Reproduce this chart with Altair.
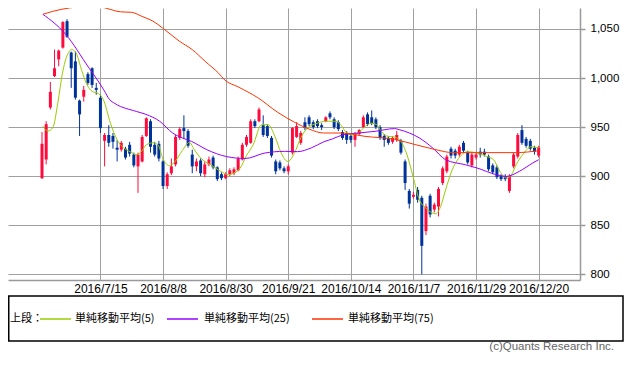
import altair as alt
import pandas as pd

# ---- candle data (index 0 = 2016/6/27 ... 119 = 2016/12/20) ----
open_ = [898,917,970,1002,1019,1031,1058,1026,1017,977, 981,1004,1010,990,980,936,942,941,929,927,
         928,932,922,910,915,941,956,932,933,915, 890,903,912,939,949,946,922,910,916,902,
         912,919,909,902,898,902,903,906,917,932, 934,956,956,952,951,939,915,914,908,905,
         924,940,934,955,960,955,956,952,956,964, 958,955,945,944,941,937,943,950,963,960,
         958,950,941,939,935,937,936,915,885,879, 886,878,844,880,866,869,893,905,928,926,
         922,934,924,911,919,925,925,920,911,909, 900,900,885,910,920,947,938,936,929,921]
close_ = [933,953,986,1010,1028,1057,1042,1010,980,963, 988,995,993,988,949,942,934,935,927,934,
          919,923,911,922,940,959,930,922,918,890, 902,910,940,948,946,931,910,915,903,912,
          917,909,897,898,902,906,907,918,932,940, 956,951,968,942,941,921,905,908,905,910,
          949,951,944,949,953,950,951,950,960,960, 950,948,939,937,937,943,947,960,953,954,
          950,939,937,934,939,942,924,893,872,881, 876,829,869,861,871,887,908,920,921,921,
          930,926,914,922,922,922,922,907,904,899, 897,897,900,922,942,934,931,928,925,929]
high_ = [945,956,996,1029,1029,1058,1060,1027,1027,978, 992,1006,1011,995,983,944,952,944,937,936,
         930,935,924,924,942,960,958,935,936,917, 904,918,942,950,962,948,927,918,918,915,
         920,921,910,904,904,908,909,920,934,942, 958,958,970,962,953,941,917,916,910,912,
         950,955,946,960,962,957,958,954,961,966, 960,957,947,946,943,945,948,962,965,967,
         960,952,943,941,941,946,938,917,887,884, 889,880,872,882,873,889,910,922,930,928,
         932,936,926,924,925,929,928,922,913,911, 902,902,902,924,944,952,940,938,931,931]
low_ = [897,912,968,1001,1012,1030,1041,990,978,941, 976,993,990,983,944,910,930,928,915,925,
        917,920,909,883,914,940,924,920,915,887, 887,901,910,937,938,929,903,905,900,899,
        910,907,895,896,897,900,901,905,916,930, 933,949,955,940,939,919,902,906,903,902,
        922,939,932,947,951,948,949,947,955,958, 948,946,937,933,934,930,941,949,951,952,
        948,937,930,932,933,935,922,886,867,877, 873,800,840,858,863,859,891,903,918,918,
        920,924,912,909,917,919,920,905,902,897, 895,895,883,908,918,932,929,926,922,919]

# ---- moving averages (index, value) ----
ma5_i = [0.2,1.4,2.6,3.8,4.9,6.1,7.1,8.1,9.6,10.8,12,13.6,14.7,16.4,18,19.5,21.1,22.7,23.8,25,
         26.6,27.8,28.9,30.5,31.7,33.6,35.3,36.5,38,40.4,42.8,44.7,45.9,47.5,49,50.6,52.6,54.2,55.8,57.3,
         58.9,60.5,62,63.6,66,68,70.4,71.5,72.7,74.3,75.8,77,79,80.2,81.3,82.9,84.3,85.7,87.3,88.9,
         90.4,92,93.6,94.4,95.5,96.7,98.3,99.8,101.9,104.2,106.6,108.2,109.7,111.3,112.5,113.6,115.2,117.2,119]
ma5_v = [951,946,949.5,975,1005,1024,1029,1026,1006.6,993,986.5,984,978,954,937,929,925,922,925,932,
         934,932,918.6,910.7,914,926,934.5,927,918.6,911.7,905,901.5,903,908.4,921,932,952.5,952.5,940.6,923.7,
         915,923.7,939,949,954,956,956,952.5,945.7,942,944,949,954,952.5,945.7,940.6,940,937,923.7,899.8,
         876,867.5,862.4,861.7,869,886,906.6,918,925,923.7,920,916.8,905,898,901.5,911.7,922,930,929]
ma25_i = [0.2,5.6,11.3,13.6,14.8,16.2,17.5,22.6,24.9,28.2,31.3,33.6,35.8,39.5,44.2,48.7,53.4,58.1,61.2,
          64.5,67.5,69.6,72,75.8,79.8,84.5,85.6,90.4,93.6,96.7,101.4,104.2,108.9,111.3,114.4,117.6,119]
ma25_v = [1065,1045,1010,996,988,978,974,966,963,956,944,939,935.5,927,920,918,923.6,925.3,925,
          928.8,935,938,942,944,945.7,948.5,947.4,939,928.8,916.8,911.7,908.4,901.5,899.8,905,913.5,916.8]
ma75_i = [0.2,2.6,6.6,9.6,12.5,15.5,18.8,21.4,24.2,26.6,28.9,32.9,36,39.1,42.3,43.8,47,51.7,56.5,
          60.5,64,67.5,72,77.4,84.5,89.6,94.4,98.4,104,113.6,119]
ma75_v = [1065,1068,1071.5,1073,1074.3,1071,1067.5,1067,1062.4,1058,1051,1037.6,1029,1017,1005,998,991,980,965,
          955,948,944,944,940.6,937.5,932,927,924,924,924,926]

# ---- axes ----
tick_idx = [14, 29, 44, 59, 74, 89, 104, 119]
tick_lbl = ["2016/7/15", "2016/8/8", "2016/8/30", "2016/9/21",
            "2016/10/14", "2016/11/7", "2016/11/29", "2016/12/20"]
y_ticks = [800, 850, 900, 950, 1000, 1050]

series_names = ["単純移動平均(5)", "単純移動平均(25)", "単純移動平均(75)"]
series_colors = ["#99cc00", "#9900ff", "#ff3300"]
RED, BLUE = "#ff0a3c", "#003399"

label_expr = "''"
for v, s in zip(reversed(tick_idx), reversed(tick_lbl)):
    label_expr = f"datum.value == {v} ? '{s}' : ({label_expr})"

df = pd.DataFrame({"i": list(range(len(open_))), "open": open_, "high": high_,
                   "low": low_, "close": close_})
df["dir"] = ["up" if c >= o else "down" for o, c in zip(open_, close_)]

XD = [-6.95, 127.71]
YD = [794.2, 1071.4]

xaxis = alt.Axis(values=tick_idx, labelExpr=label_expr, title=None, grid=True, ticks=False,
                 domain=True, labelFont="Liberation Sans", labelFontSize=12, labelColor="#000",
                 labelPadding=3, labelOverlap=False, labelFlush=False)
yaxis = alt.Axis(values=y_ticks, format=",.0f", orient="right", title=None, grid=True, ticks=True,
                 tickSize=5, domain=True, labelFont="Liberation Sans", labelFontSize=11.5,
                 labelColor="#000", labelPadding=5)
xs = alt.Scale(domain=XD, nice=False, zero=False)
ys = alt.Scale(domain=YD, nice=False, zero=False)
col = alt.Color("dir:N", scale=alt.Scale(domain=["up", "down"], range=[RED, BLUE]), legend=None)

wick = alt.Chart(df).mark_rule(strokeWidth=1).encode(
    x=alt.X("i:Q", scale=xs, axis=xaxis),
    y=alt.Y("low:Q", scale=ys, axis=yaxis), y2="high:Q", color=col)
body = alt.Chart(df).mark_bar(size=3).encode(
    x=alt.X("i:Q", scale=xs, axis=xaxis),
    y=alt.Y("open:Q", scale=ys, axis=yaxis), y2="close:Q", color=col)

layers = [wick, body]
for (mi, mv), c in zip([(ma5_i, ma5_v), (ma25_i, ma25_v), (ma75_i, ma75_v)], series_colors):
    mdf = pd.DataFrame({"i": mi, "v": mv})
    layers.append(alt.Chart(mdf).mark_line(color=c, strokeWidth=1, interpolate="monotone").encode(
        x=alt.X("i:Q", scale=xs, axis=xaxis), y=alt.Y("v:Q", scale=ys, axis=yaxis)))

one = pd.DataFrame({"k": [0]})
# legend box
layers.append(alt.Chart(one).mark_rect(fillOpacity=0, stroke="#000", strokeWidth=1.5).encode(
    x=alt.value(0.75), x2=alt.value(615), y=alt.value(288), y2=alt.value(333)))
layers.append(alt.Chart(one).mark_text(align="left", baseline="middle", font="Noto Sans CJK JP",
                                       fontSize=11, color="#000").encode(
    x=alt.value(2), y=alt.value(311), text=alt.value("上段：")))
for name, c, lx, tx in zip(series_names, series_colors, [32, 159, 304], [67, 196, 340]):
    layers.append(alt.Chart(one).mark_rule(color=c, strokeWidth=1.5).encode(
        x=alt.value(lx), x2=alt.value(lx + 31), y=alt.value(311)))
    layers.append(alt.Chart(one).mark_text(align="left", baseline="middle", font="Noto Sans CJK JP",
                                           fontSize=11, color="#000").encode(
        x=alt.value(tx), y=alt.value(311), text=alt.value(name)))
layers.append(alt.Chart(one).mark_text(align="right", baseline="middle", font="Liberation Sans",
                                       fontSize=11.5, color="#666").encode(
    x=alt.value(606), y=alt.value(339), text=alt.value("(c)Quants Research Inc.")))

chart = alt.layer(*layers).properties(
    width=572, height=272,
    padding={"left": 0, "top": 0, "right": 45, "bottom": 74},
    autosize=alt.AutoSizeParams(type="none"),
).configure_view(stroke=None).configure_axis(
    gridColor="#a0a0a0", gridWidth=1, gridOpacity=1,
    domainColor="#999999", domainWidth=1.5, tickColor="#999999", tickWidth=1.5,
)

chart.save("out.html", embed_options={"renderer": "svg", "actions": False})
